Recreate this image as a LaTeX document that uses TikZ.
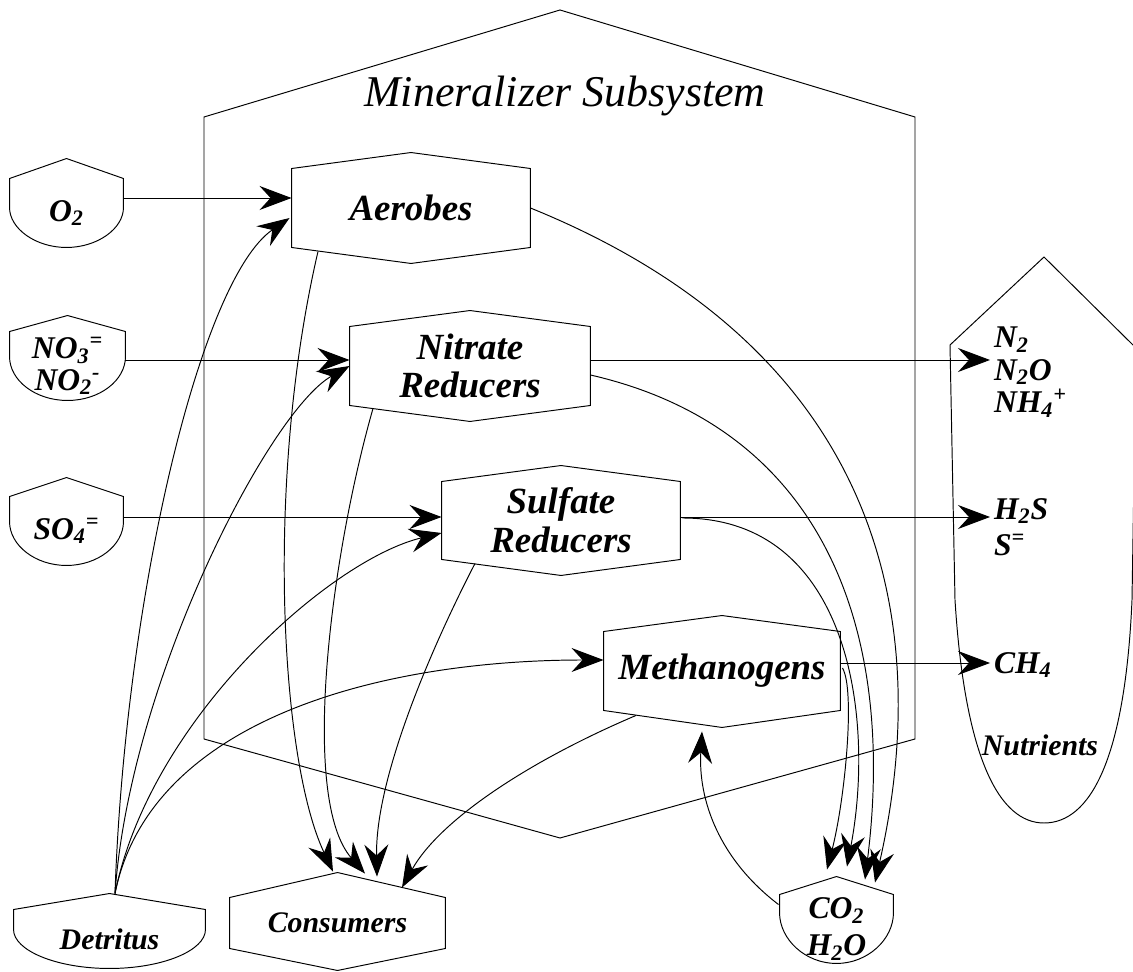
\documentclass[tikz,border=0pt]{standalone}
\usepackage{fontspec}
\setmainfont{Liberation Serif}
\usetikzlibrary{arrows.meta}

% sub- and superscript after a formula letter
\newcommand{\sbsp}[2]{\textsubscript{#1}\textsuperscript{#2}}

% hexagon outline of a process box: node, roof, floor (px)
\newcommand{\hexoutline}[3]{%
  \draw (#1.south west) -- (#1.north west) -- ([shift={(0,#2)}]#1.north)
    -- (#1.north east) -- (#1.south east) -- ([shift={(0,-#3)}]#1.south) -- cycle;}

% outline of a source: node, roof, side, curve handles
\newcommand{\srcoutline}[5]{%
  \draw ([shift={(0,#2)}]#1.north) -- (#1.north east) -- ([shift={(0,-#3)}]#1.north east)
    .. controls +(0,-#4) and +(#5,0) .. (#1.south)
    .. controls +(-#5,0) and +(0,-#4) .. ([shift={(0,-#3)}]#1.north west)
    -- (#1.north west) -- cycle;}

\begin{document}
\begin{tikzpicture}[x=0.02cm, y=0.02cm, line width=0.55pt,
    proc/.style={inner sep=0pt, minimum height=1.56cm, align=center,
      font=\bfseries\itshape\fontsize{21}{22}\selectfont},
    src/.style={inner sep=0pt, minimum width=2.26cm, minimum height=1.36cm,
      align=center, font=\bfseries\itshape\fontsize{18}{18}\selectfont},
    lbl/.style={inner sep=2pt, align=left,
      font=\bfseries\itshape\fontsize{18}{18.5}\selectfont},
    arr/.style={-{Stealth[length=0.64cm, width=0.48cm, inset=0.22cm]}}]
  \useasboundingbox (0,0) rectangle (1133,-972);

  % mineralizer subsystem frame
  \draw (204,-739) -- (204,-117) -- (560,-10) -- (915,-117) -- (915,-739) -- (560,-838) -- cycle;
  \node[font=\itshape\fontsize{25}{25}\selectfont] (title) at (565,-96) {Mineralizer Subsystem};

  % nutrients storage
  \draw (950,-345) -- (955,-600) .. controls (965,-760) and (1000,-823) .. (1044,-823)
    .. controls (1090,-823) and (1125,-760) .. (1132,-600) -- (1136,-348) -- (1044,-257) -- cycle;
  \node[lbl, font=\bfseries\itshape\fontsize{17}{17}\selectfont] (nut) at (1040,-745) {Nutrients};
  \node[lbl, anchor=west] (n2) at (990,-372) {N\textsubscript{2}\\N\textsubscript{2}O\\NH\sbsp{4}{+}};
  \node[lbl, anchor=west, font=\bfseries\itshape\fontsize{18}{20.5}\selectfont] (h2s) at (990,-527)
    {H\textsubscript{2}S\\S\textsuperscript{=}};
  \node[lbl, anchor=west] (ch4) at (990,-665) {CH\textsubscript{4}};

  % sources
  \node[src] (o2) at (66.5,-213) {O\textsubscript{2}};
  \node[src, minimum width=2.3cm] (no3) at (67.5,-366) {NO\sbsp{3}{=}\\NO\sbsp{2}{-}};
  \node[src] (so4) at (66.5,-531) {SO\sbsp{4}{=}};
  \node[src, minimum width=3.82cm, minimum height=1.16cm,
    font=\bfseries\itshape\fontsize{17}{17}\selectfont] (det) at (109.5,-939) {Detritus};
  \node[src, font=\bfseries\itshape\fontsize{18}{21}\selectfont] (co2) at (836.5,-929)
    {CO\textsubscript{2}\\H\textsubscript{2}O};
  \srcoutline{o2}{20}{29}{21}{31}
  \srcoutline{no3}{16}{25}{24}{32}
  \srcoutline{so4}{19}{25}{24}{31}
  \srcoutline{det}{16}{20}{21}{53}
  \srcoutline{co2}{18}{18}{27}{31}

  % populations
  \node[proc, minimum width=4.76cm] (aer) at (411,-208) {Aerobes};
  \node[proc, minimum width=4.8cm] (nit) at (470,-366) {Nitrate\\Reducers};
  \node[proc, minimum width=4.76cm, minimum height=1.54cm] (sul) at (561,-520.5) {Sulfate\\Reducers};
  \node[proc, minimum width=4.72cm] (met) at (722,-671) {Methanogens};
  \node[proc, minimum width=4.3cm, minimum height=1cm,
    font=\bfseries\itshape\fontsize{17}{17}\selectfont] (con) at (337.5,-923) {Consumers};
  \hexoutline{aer}{16}{16}
  \hexoutline{nit}{16}{16}
  \hexoutline{sul}{16}{16}
  \hexoutline{met}{16}{17}
  \hexoutline{con}{25}{22}

  \coordinate (aerin) at ([shift={(0,10)}]aer.west);
  \coordinate (nitin) at ([shift={(0,6)}]nit.west);
  \coordinate (sulin) at ([shift={(0,3.5)}]sul.west);
  \coordinate (metout) at ([shift={(0,8)}]met.east);
  \coordinate (detout) at ([shift={(5.5,16)}]det.north);

  % inflows
  \draw[arr] (o2.east |- aerin) -- (aerin);
  \draw[arr] (no3.east |- nitin) -- (nitin);
  \draw[arr] (so4.east |- sulin) -- (sulin);
  \draw[arr] (detout) .. controls +(10,294) and +(-90,-62) .. ([shift={(-2,-10)}]aer.west);
  \draw[arr] (detout) .. controls +(15,214) and +(-80,-45) .. (nit.west);
  \draw[arr] (detout) .. controls +(35,174) and +(-112,-27) .. ([shift={(0,-12.5)}]sul.west);
  \draw[arr] (detout) .. controls +(35,174) and +(-223,0) .. ([shift={(0,11)}]met.west);

  % outflows to nutrients
  \draw[arr] (nitin -| nit.east) -- (nitin -| n2.west);
  \draw[arr] (sulin -| sul.east) -- (sulin -| h2s.west);
  \draw[arr] (metout) -- (metout -| ch4.west);

  % to consumers
  \draw[arr] ([shift={(-93,-4)}]aer.south) .. controls +(-53,-228) and +(-53,112) .. ([shift={(-4.5,26)}]con.north);
  \draw[arr] ([shift={(-97,-3)}]nit.south) .. controls +(-43,-151) and +(-65,74) .. ([shift={(27.5,24)}]con.north);
  \draw[arr] ([shift={(-86,-4)}]sul.south) .. controls +(-45,-87) and +(-2,97) .. ([shift={(39.5,21)}]con.north);
  \draw[arr] ([shift={(-86,-5)}]met.south) .. controls +(-106,-45) and +(38,68) .. ([shift={(64.5,10)}]con.north);

  % to co2 and water
  \draw[arr] (aer.east) .. controls +(350,-142) and +(60,263) .. ([shift={(38.5,12)}]co2.north);
  \draw[arr] ([shift={(0,-9)}]nit.east) .. controls +(240,-55) and +(30,240) .. ([shift={(28.5,15)}]co2.north);
  \draw[arr] ([shift={(2,2.5)}]sul.east) .. controls +(168,0) and +(28,147) .. ([shift={(10.5,28)}]co2.north);
  \draw[arr] ([shift={(2,3)}]met.east) .. controls +(13,-22) and +(18,70) .. ([shift={(-9.5,25)}]co2.north);
  \draw[arr] ([shift={(-1,-10)}]co2.north west) .. controls +(-59,45) and +(-4,-69) .. ([shift={(-20,-21)}]met.south);
\end{tikzpicture}
\end{document}
